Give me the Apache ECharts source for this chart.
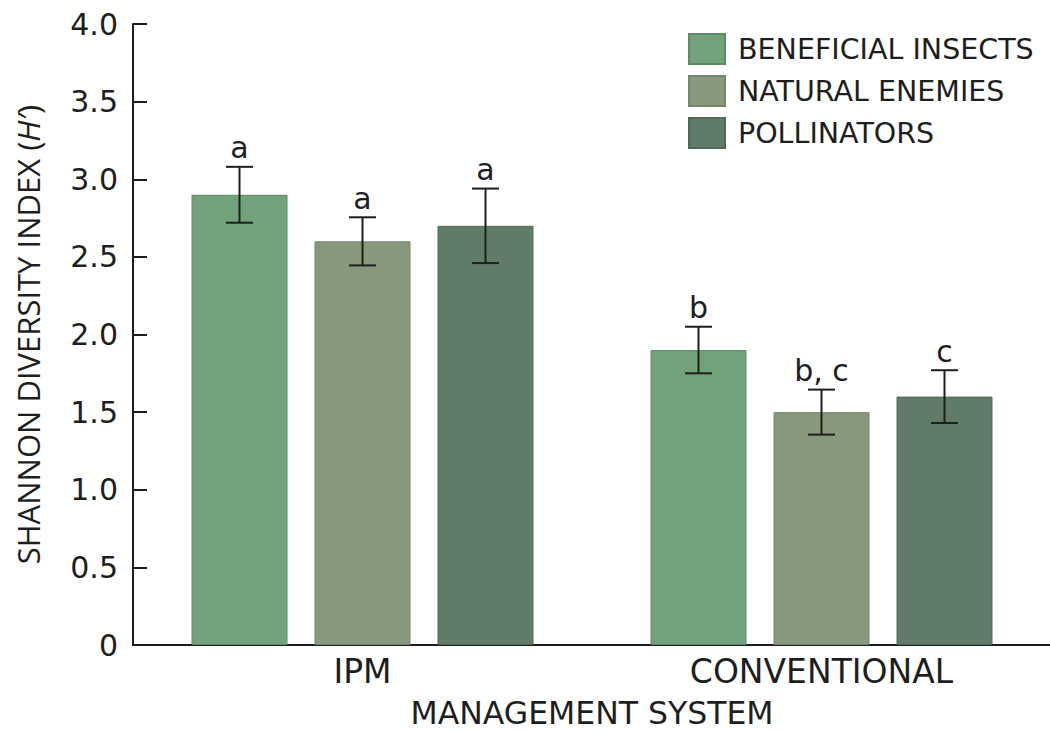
<!DOCTYPE html>
<html>
<head>
<meta charset="utf-8">
<script src="https://cdn.jsdelivr.net/npm/echarts@6/dist/echarts.min.js"></script>
<style>
html,body{margin:0;padding:0;background:#fff;}
#chart{width:1050px;height:733px;}
</style>
</head>
<body>
<div id="chart"></div>
<script>
var categories = ['IPM', 'CONVENTIONAL'];
var seriesNames = ['BENEFICIAL INSECTS', 'NATURAL ENEMIES', 'POLLINATORS'];
var beneficialInsects = [2.9, 1.9];
var naturalEnemies = [2.6, 1.5];
var pollinators = [2.7, 1.6];
var beneficialErr = [0.18, 0.15];
var naturalErr = [0.155, 0.145];
var pollinatorErr = [0.24, 0.17];
var beneficialLetters = ['a', 'b'];
var naturalLetters = ['a', 'b, c'];
var pollinatorLetters = ['a', 'c'];
var yTicks = [0, 0.5, 1.0, 1.5, 2.0, 2.5, 3.0, 3.5, 4.0];

var colors = ['#72a27b', '#88987c', '#607c68'];
var borders = ['#5d8a66', '#74866b', '#4f6a57'];
var FONT = '"DejaVu Sans", sans-serif';
var FONT_NARROW = '"Open Sans", "Noto Sans", sans-serif';

var values = [beneficialInsects, naturalEnemies, pollinators];
var errs = [beneficialErr, naturalErr, pollinatorErr];
var letters = [beneficialLetters, naturalLetters, pollinatorLetters];

var BAR_W = 96, GAP = 27;

var series = [];
seriesNames.forEach(function (name, i) {
  series.push({
    name: name,
    type: 'bar',
    data: values[i],
    barWidth: BAR_W,
    barGap: (GAP / BAR_W * 100) + '%',
    itemStyle: { color: colors[i], borderColor: borders[i], borderWidth: 1 },
    silent: true,
    z: 2
  });
});
seriesNames.forEach(function (name, i) {
  var data = values[i].map(function (v, j) { return [j, v, errs[i][j], letters[i][j]]; });
  series.push({
    type: 'custom',
    name: name + ' error',
    data: data,
    z: 5,
    silent: true,
    renderItem: function (params, api) {
      var cat = api.value(0), v = api.value(1), e = api.value(2);
      var letter = data[params.dataIndex][3];
      var center = api.coord([cat, v]);
      var offset = (i - 1) * (BAR_W + GAP);
      var x = center[0] + offset;
      var top = api.coord([cat, v + e])[1];
      var bot = api.coord([cat, v - e])[1];
      var half = 13.5;
      var st = { stroke: '#1e1e1e', lineWidth: 2 };
      return {
        type: 'group',
        children: [
          { type: 'line', shape: { x1: x, y1: top, x2: x, y2: bot }, style: st },
          { type: 'line', shape: { x1: x - half, y1: top, x2: x + half, y2: top }, style: st },
          { type: 'line', shape: { x1: x - half, y1: bot, x2: x + half, y2: bot }, style: st },
          { type: 'text', style: { text: letter, x: x, y: top - 4, align: 'center', verticalAlign: 'bottom',
              fill: '#1e1e1e', font: '30px ' + FONT } }
        ]
      };
    }
  });
});

var chart = echarts.init(document.getElementById('chart'), null, { renderer: 'svg' });
chart.setOption({
  animation: false,
  backgroundColor: '#ffffff',
  textStyle: { fontFamily: FONT },
  legend: {
    data: seriesNames,
    orient: 'vertical',
    left: 688,
    top: 33,
    padding: 0,
    icon: 'rect',
    itemWidth: 36,
    itemHeight: 30,
    itemGap: 10,
    selectedMode: false,
    textStyle: { fontSize: 28.5, lineHeight: 30, color: '#1e1e1e', fontFamily: FONT, padding: [0, 0, 0, 8] }
  },
  grid: { left: 133, right: -1, top: 24, bottom: 88, containLabel: false, outerBoundsMode: 'none' },
  xAxis: {
    type: 'category',
    data: categories,
    axisLine: { lineStyle: { color: '#1e1e1e', width: 2 } },
    axisTick: { show: false },
    axisLabel: { fontSize: 33, color: '#1e1e1e', margin: 10, fontFamily: FONT },
    name: 'MANAGEMENT SYSTEM',
    nameLocation: 'middle',
    nameGap: 53,
    nameTextStyle: { fontSize: 31.5, lineHeight: 30, color: '#1e1e1e', fontFamily: FONT }
  },
  yAxis: {
    type: 'value',
    min: 0,
    max: 4,
    interval: 0.5,
    splitLine: { show: false },
    axisLine: { show: true, lineStyle: { color: '#1e1e1e', width: 2 } },
    axisTick: { show: true, inside: true, length: 14, lineStyle: { color: '#1e1e1e', width: 2 } },
    axisLabel: {
      fontSize: 30, color: '#1e1e1e', margin: 15, fontFamily: FONT,
      formatter: function (v) {
        for (var k = 0; k < yTicks.length; k++) {
          if (Math.abs(yTicks[k] - v) < 1e-9) return v === 0 ? '0' : v.toFixed(1);
        }
        return '';
      }
    },
    name: '{n|SHANNON DIVERSITY INDEX (}{i|H′}{n|)}',
    nameLocation: 'middle',
    nameGap: 90,
    nameRotate: 90,
    nameTextStyle: {
      rich: {
        n: { fontSize: 31, color: '#1e1e1e', fontFamily: FONT_NARROW },
        i: { fontSize: 31, color: '#1e1e1e', fontFamily: FONT_NARROW, fontStyle: 'italic' }
      }
    }
  },
  series: series
});
</script>
</body>
</html>
